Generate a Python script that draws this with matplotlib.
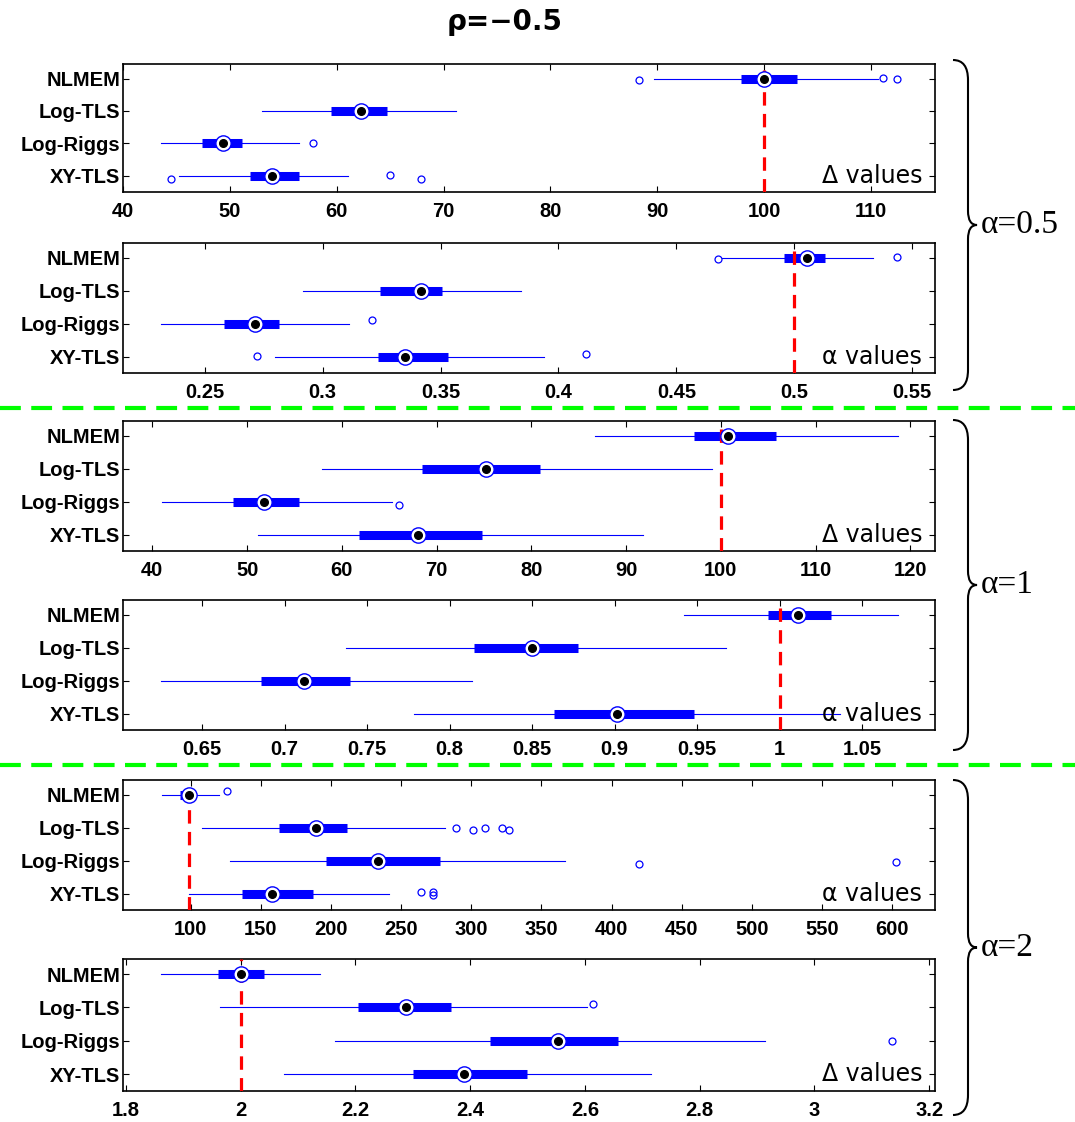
import matplotlib
matplotlib.use("Agg")
import matplotlib.pyplot as plt
from matplotlib.path import Path
from matplotlib.patches import PathPatch

# ---------------------------------------------------------------- data
methods = ["NLMEM", "Log-TLS", "Log-Riggs", "XY-TLS"]

# five-number summaries per method: [whisker low, Q1, median, Q3, whisker high]
a05_delta_stats = [[89.7, 97.8, 100.0, 103.1, 110.7],
                   [53.0, 59.5, 62.3, 64.7, 71.2],
                   [43.6, 47.4, 49.4, 51.1, 56.5],
                   [45.2, 51.9, 53.9, 56.5, 61.1]]
a05_delta_out = [[88.3, 111.1, 112.4], [], [57.8], [44.5, 65.0, 67.9]]

a05_alpha_stats = [[0.4695, 0.4958, 0.5055, 0.5131, 0.5335],
                   [0.2915, 0.3242, 0.3415, 0.3508, 0.3843],
                   [0.2314, 0.2581, 0.2712, 0.2813, 0.3110],
                   [0.2797, 0.3233, 0.3347, 0.3530, 0.3940]]
a05_alpha_out = [[0.4678, 0.5437], [], [0.3208], [0.2720, 0.4117]]

a1_delta_stats = [[86.7, 97.2, 100.8, 105.8, 118.7],
                  [57.9, 68.5, 75.2, 80.9, 99.1],
                  [41.0, 48.5, 51.8, 55.5, 65.3],
                  [51.2, 61.8, 68.0, 74.8, 91.8]]
a1_delta_out = [[], [], [66.0], []]

a1_alpha_stats = [[0.9421, 0.9930, 1.0112, 1.0312, 1.0718],
                  [0.7370, 0.8149, 0.8500, 0.8779, 0.9676],
                  [0.6252, 0.6858, 0.7115, 0.7397, 0.8136],
                  [0.7785, 0.8630, 0.9015, 0.9482, 1.0367]]
a1_alpha_out = [[], [], [], []]

a2_first_stats = [[79.4, 92.2, 98.6, 102.8, 119.9],
                  [107.8, 162.6, 188.9, 211.0, 281.4],
                  [127.7, 196.7, 233.7, 277.8, 366.7],
                  [98.6, 136.3, 157.6, 186.8, 241.5]]
a2_first_out = [[125.6], [289.2, 301.3, 309.4, 321.9, 326.9],
                [419.3, 602.8], [264.3, 272.5, 273.0]]

a2_second_stats = [[1.8605, 1.9608, 2.0005, 2.0403, 2.1388],
                   [1.9640, 2.2045, 2.2875, 2.3670, 2.6038],
                   [2.1648, 2.4344, 2.5537, 2.6574, 2.9132],
                   [2.0757, 2.3004, 2.3895, 2.4984, 2.7145]]
a2_second_out = [[], [2.6133], [3.1345], []]

true_values = [100, 0.5, 100, 1.0, 99, 2.0]
panel_tags = ["\u0394 values", "\u03b1 values", "\u0394 values",
              "\u03b1 values", "\u03b1 values", "\u0394 values"]
group_labels = ["\u03b1=0.5", "\u03b1=1", "\u03b1=2"]
title_text = "\u03c1=\u22120.5"

x_ticks = [[40, 50, 60, 70, 80, 90, 100, 110],
           [0.25, 0.3, 0.35, 0.4, 0.45, 0.5, 0.55],
           [40, 50, 60, 70, 80, 90, 100, 110, 120],
           [0.65, 0.7, 0.75, 0.8, 0.85, 0.9, 0.95, 1, 1.05],
           [100, 150, 200, 250, 300, 350, 400, 450, 500, 550, 600],
           [1.8, 2, 2.2, 2.4, 2.6, 2.8, 3, 3.2]]
x_ticklabels = [["40", "50", "60", "70", "80", "90", "100", "110"],
                ["0.25", "0.3", "0.35", "0.4", "0.45", "0.5", "0.55"],
                ["40", "50", "60", "70", "80", "90", "100", "110", "120"],
                ["0.65", "0.7", "0.75", "0.8", "0.85", "0.9", "0.95", "1", "1.05"],
                ["100", "150", "200", "250", "300", "350", "400", "450",
                 "500", "550", "600"],
                ["1.8", "2", "2.2", "2.4", "2.6", "2.8", "3", "3.2"]]

# ---------------------------------------------------------------- layout / style
W, H = 1075, 1122
x_limits = [(40, 116), (0.2153, 0.5597), (36.9, 122.6),
            (0.6021, 1.0942), (51.6, 630.6), (1.795, 3.21)]
# panel rectangles in pixels: left, top, right, bottom
panel_px = [(123, 64, 935, 192), (123, 243, 935, 373),
            (123, 421, 935, 551), (123, 600, 935, 730),
            (123, 780, 935, 910), (123, 959, 935, 1091)]
# small vertical offsets of outlier circles (row units)
out_jitter = [
    [[0.03, -0.03, 0.0], [], [0.0], [0.09, -0.03, 0.09]],
    [[0.03, -0.03], [], [-0.12], [-0.03, -0.08]],
    [[], [], [0.09], []],
    [[], [], [], []],
    [[-0.12], [0.0, 0.06, 0.0, 0.0, 0.06], [0.09, 0.03], [-0.06, -0.06, 0.03]],
    [[], [-0.09], [0.0], []],
]

panels = [(a05_delta_stats, a05_delta_out), (a05_alpha_stats, a05_alpha_out),
          (a1_delta_stats, a1_delta_out), (a1_alpha_stats, a1_alpha_out),
          (a2_first_stats, a2_first_out), (a2_second_stats, a2_second_out)]

BLUE = (0, 0, 1)
tick_font = "Liberation Sans"

fig = plt.figure(figsize=(W / 100, H / 100), dpi=100)


def px_rect(l, t, r, b):
    return [l / W, 1 - b / H, (r - l) / W, (b - t) / H]


def draw_panel(ax, stats, outs, jit, truth, tag, xl, xt, xtl):
    rows = range(1, len(methods) + 1)
    for row, st, ol, jj in zip(rows, stats, outs, jit):
        wlo, q1, med, q3, whi = st
        ax.plot([wlo, whi], [row, row], color=BLUE, lw=0.8, zorder=2)
        ax.plot([q1, q3], [row, row], color=BLUE, lw=6.5,
                solid_capstyle="butt", zorder=3)
        if ol:
            ax.plot(ol, [row + j for j in jj], "o", mfc="none", mec=BLUE,
                    ms=5, mew=0.9, zorder=4)
        ax.plot([med], [row], "o", mfc="white", mec=BLUE, ms=11,
                mew=1.0, zorder=6)
        ax.plot([med], [row], "o", color="black", ms=5.5, zorder=7)
    ax.axvline(truth, color="red", lw=2.3, ls=(0, (4.2, 2.6)), zorder=5)
    ax.set_xlim(*xl)
    ax.set_ylim(4.5, 0.55)
    ax.set_yticks(list(rows))
    ax.set_yticklabels(methods, fontfamily=tick_font, fontweight="bold",
                       fontsize=14.5)
    ax.set_xticks(xt)
    ax.set_xticklabels(xtl, fontfamily=tick_font, fontweight="bold",
                       fontsize=14.5)
    ax.tick_params(direction="in", top=True, right=True, length=4.5,
                   width=0.8, pad=7)
    ax.tick_params(axis="y", pad=2)
    for s in ax.spines.values():
        s.set_linewidth(1.2)
    ax.text(0.984, 4.0, tag, transform=ax.get_yaxis_transform(),
            ha="right", va="center", fontsize=17, family="DejaVu Sans",
            zorder=8)


for i, ((st, ol), rect) in enumerate(zip(panels, panel_px)):
    ax = fig.add_axes(px_rect(*rect))
    draw_panel(ax, st, ol, out_jitter[i], true_values[i], panel_tags[i],
               x_limits[i], x_ticks[i], x_ticklabels[i])

# overlay in pixel coordinates for title, separators and braces
ov = fig.add_axes([0, 0, 1, 1], zorder=10)
ov.set_xlim(0, W)
ov.set_ylim(H, 0)
ov.axis("off")
ov.patch.set_alpha(0)

ov.text(505, 22, title_text, ha="center", va="center", fontsize=20,
        family="DejaVu Sans", fontweight="bold")

for y in (408, 765):
    ov.plot([0, W], [y, y], color=(0, 1, 0), lw=3.0, ls=(0, (5, 2.5)))


def brace(y0, y1, x0=953, x1=968, x2=977, r=20, rt=14):
    ym = (y0 + y1) / 2
    verts = [(x0, y0), (x1, y0), (x1, y0 + r),
             (x1, ym - rt), (x1, ym), (x2, ym),
             (x1, ym), (x1, ym + rt),
             (x1, y1 - r), (x1, y1), (x0, y1)]
    codes = [Path.MOVETO, Path.CURVE3, Path.CURVE3,
             Path.LINETO, Path.CURVE3, Path.CURVE3,
             Path.CURVE3, Path.CURVE3,
             Path.LINETO, Path.CURVE3, Path.CURVE3]
    ov.add_patch(PathPatch(Path(verts, codes), fill=False, lw=1.5,
                           edgecolor="black"))
    return ym


for (y0, y1), lab in zip([(60, 390), (420, 750), (780, 1115)], group_labels):
    ym = brace(y0, y1)
    ov.text(981, ym, lab, ha="left", va="center", fontsize=24,
            family="Liberation Serif")

fig.savefig("out.png", dpi=100)
